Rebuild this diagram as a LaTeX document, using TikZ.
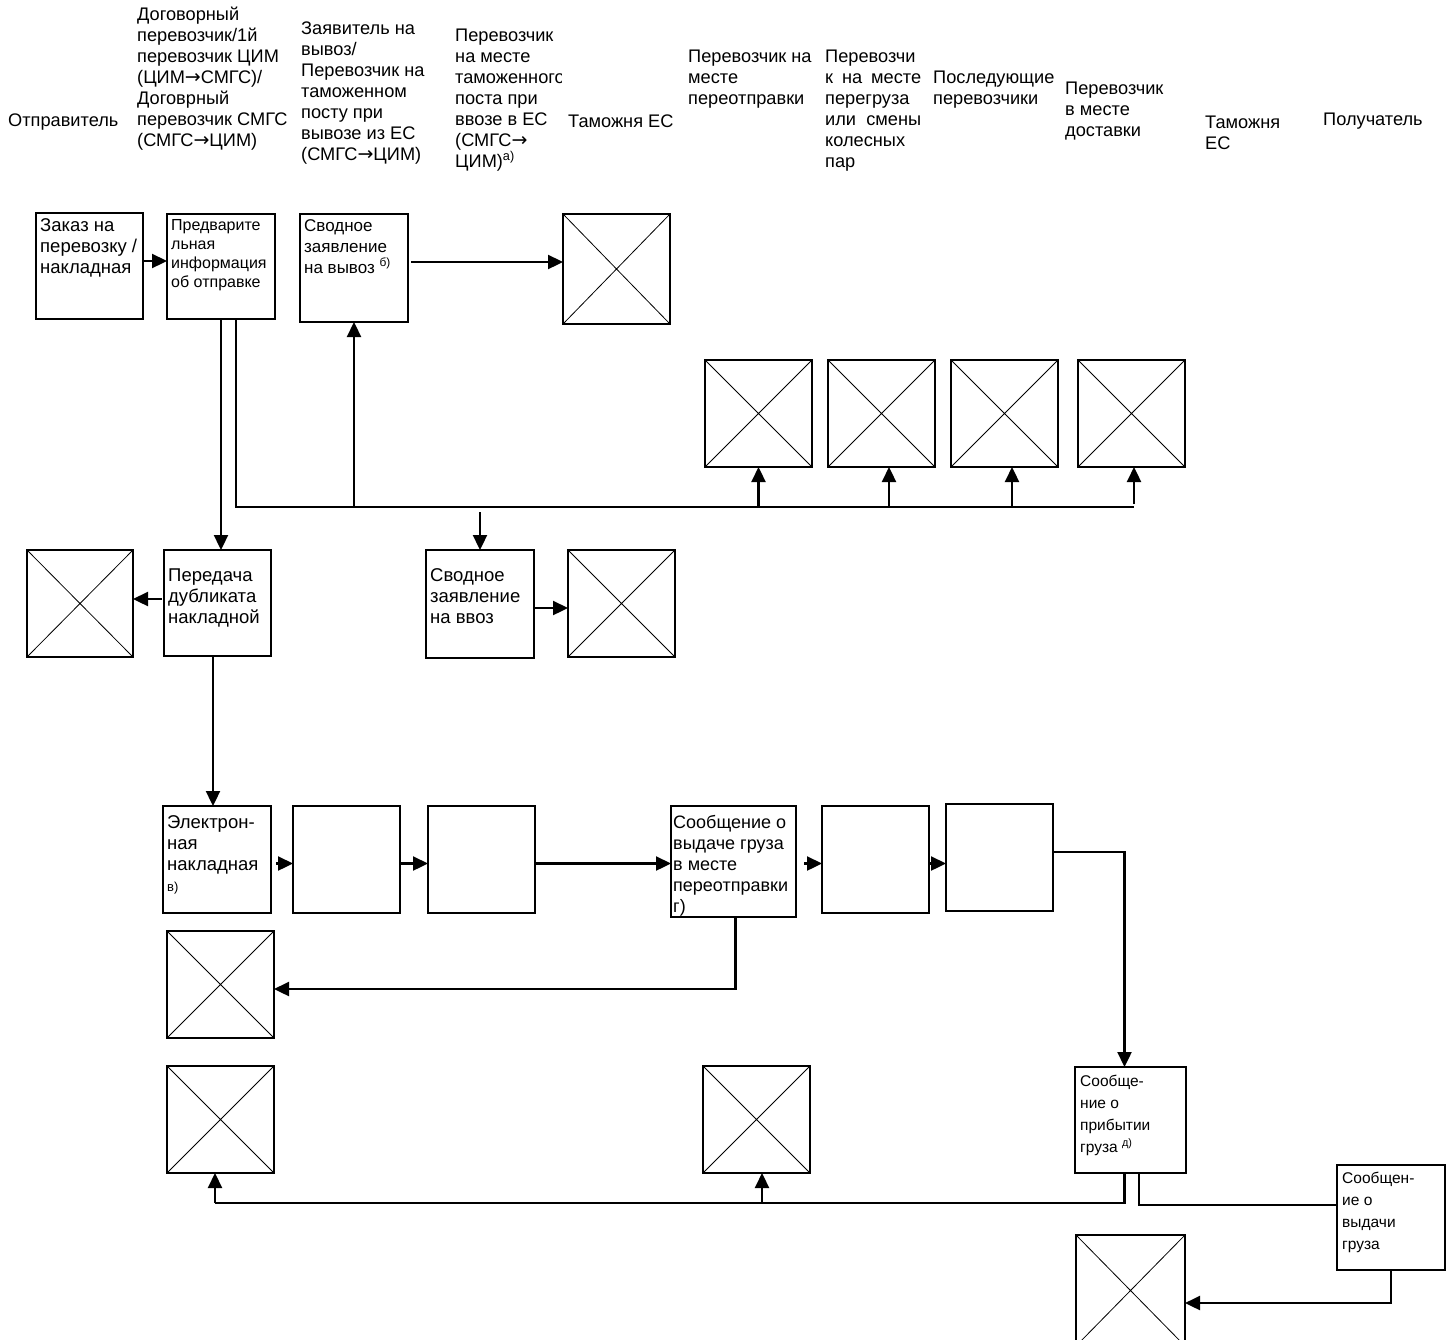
\documentclass[tikz,border=0pt]{standalone}
\usepackage{fontspec}
\setmainfont{Liberation Sans}
\newfontfamily\dvfont{DejaVu Sans}
\usetikzlibrary{arrows.meta}
\newcommand\hfnt{\fontsize{18.2}{21}\selectfont}
\newcommand\bfnt{\fontsize{18.5}{21}\selectfont}
\newcommand\cfnt{\fontsize{17}{21}\selectfont}
\newcommand\ifnt{\fontsize{18}{21}\selectfont}
\newcommand\sfnt{\fontsize{16}{19}\selectfont}
\newcommand\lfnt{\fontsize{15.5}{22}\selectfont}
\newcommand\rarr{{\dvfont\fontsize{19}{21}\selectfont →}}
\newcommand\mkbox[6][box]{\node[#1, minimum width={(#5-#3)*1pt}, minimum height={(#6-#4)*1pt}] (#2) at ({(#3+#5)/2},{(#4+#6)/2}) {};}
\begin{document}
\begin{tikzpicture}[x=1pt,y=-1pt,
  box/.style={draw, line width=1.3pt, inner sep=0pt, outer sep=0pt},
  crossbox/.style={box, path picture={\draw[line width=0.8pt] (path picture bounding box.north west) -- (path picture bounding box.south east) (path picture bounding box.north east) -- (path picture bounding box.south west);}},
  conn/.style={line width=2.3pt},
  arr/.style={conn, -{Triangle[length=15pt,width=14pt]}},
  hdr/.style={anchor=north west, inner sep=0pt, align=left, font=\hfnt},
  btxt/.style={anchor=north west, inner sep=0pt, align=left, font=\bfnt}]
\fill[white] (0,0) rectangle (1447,1339);
\useasboundingbox (0,0) rectangle (1447,1339);

% headers
\node[hdr] (h1) at (8,111.3) {\strut Отправитель};
\node[hdr] (h2) at (137,5.3) {\strut Договорный\\перевозчик/1й\\перевозчик ЦИМ\\(ЦИМ\rarr СМГС)/\\Договрный\\перевозчик СМГС\\(СМГС\rarr ЦИМ)};
\node[hdr] (h3) at (301,19.3) {\strut Заявитель на\\вывоз/\\Перевозчик на\\таможенном\\посту при\\вывозе из ЕС\\(СМГС\rarr ЦИМ)};
\begin{scope}
\clip (450,0) rectangle (561,200);
\node[hdr] (h4) at (455,26.3) {\strut Перевозчик\\на месте\\таможенного\\поста при\\ввозе в ЕС\\(СМГС\rarr\\ЦИМ)\textsuperscript{а)}};
\end{scope}
\node[hdr] (h5) at (568,112.3) {\strut Таможня ЕС};
\node[hdr] (h6) at (688,47.3) {\strut Перевозчик на\\месте\\переотправки};
\node[hdr] (h7) at (825,47.3) {\strut Перевозчи\\\makebox[96pt][s]{к на месте}\\перегруза\\\makebox[96pt][s]{или смены}\\колесных\\пар};
\node[hdr] (h8) at (933,68.3) {\strut Последующие\\перевозчики};
\node[hdr] (h9) at (1065,79.3) {\strut Перевозчик\\в месте\\доставки};
\node[hdr] (h10) at (1205,113.3) {\strut Таможня\\ЕС};
\node[hdr] (h11) at (1323,110.3) {\strut Получатель};

% boxes
\mkbox{A}{36}{213}{143}{319}
\mkbox{B}{167}{214}{275}{319}
\mkbox{C}{300}{214}{408}{322}
\mkbox[crossbox]{X1}{563}{214}{670}{324}
\mkbox[crossbox]{X2}{705}{360}{812}{467}
\mkbox[crossbox]{X3}{828}{360}{935}{467}
\mkbox[crossbox]{X4}{951}{360}{1058}{467}
\mkbox[crossbox]{X5}{1078}{360}{1185}{467}
\mkbox[crossbox]{X6}{27}{550}{133}{657}
\mkbox{D}{164}{550}{271}{656}
\mkbox{E}{426}{550}{534}{658}
\mkbox[crossbox]{X7}{568}{550}{675}{657}
\mkbox{F}{163}{806}{271}{913}
\mkbox{G}{293}{806}{400}{913}
\mkbox{H}{428}{806}{535}{913}
\mkbox{I}{671}{806}{796}{917}
\mkbox{J}{822}{806}{929}{913}
\mkbox{K}{946}{804}{1053}{911}
\mkbox[crossbox]{X8}{167}{931}{274}{1038}
\mkbox[crossbox]{X9}{167}{1066}{274}{1173}
\mkbox[crossbox]{X10}{703}{1066}{810}{1173}
\mkbox{L}{1075}{1067}{1186}{1173}
\mkbox{M}{1337}{1165}{1445}{1270}
\mkbox[crossbox]{X11}{1076}{1235}{1185}{1346}

% box texts
\node[btxt] (tA) at (40,216.3) {\strut Заказ на\\перевозку /\\накладная};
\node[btxt, font=\sfnt] (tB) at (171,217) {\strut Предварите\\льная\\информация\\об отправке};
\node[btxt, font=\cfnt] (tC) at (304,216.3) {\strut Сводное\\заявление\\на вывоз \textsuperscript{б)}};
\node[btxt] (tD) at (168,566.3) {\strut Передача\\дубликата\\накладной};
\node[btxt] (tE) at (430,566.3) {\strut Сводное\\заявление\\на ввоз};
\node[btxt] (tF) at (167,813.3) {\strut Электрон-\\ная\\накладная\\{\fontsize{13}{21}\selectfont в)}};
\node[btxt, font=\ifnt] (tI) at (673,813.3) {\strut Сообщение о\\выдаче груза\\в месте\\переотправки\\г)};
\node[btxt, font=\lfnt] (tL) at (1080,1070.6) {\strut Сообще-\\ние о\\прибытии\\груза \textsuperscript{д)}};
\node[btxt, font=\lfnt] (tM) at (1342,1167.6) {\strut Сообщен-\\ие о\\выдачи\\груза};

% connectors, top
\draw[arr] ([xshift=1pt,yshift=5pt]A.east) -- ([yshift=5pt]A.east -| B.west);
\draw[arr] ([xshift=3pt,yshift=6pt]C.east) -- ([yshift=6pt]C.east -| X1.west);
\draw[arr] (B.south) -- (B.south |- D.north);
\coordinate (bus) at (236,507);
\draw[conn] (bus |- B.south) -- (bus) -- ([xshift=2.5pt]X5.south |- bus);
\draw[arr] (bus -| C.south) -- (C.south);
\draw[arr] ([yshift=38pt]E.north) -- (E.north);
\draw[arr] (X2.south |- bus) -- (X2.south);
\draw[arr] ([xshift=7.5pt]X3.south |- bus) -- ([xshift=7.5pt]X3.south);
\draw[arr] ([xshift=7.5pt]X4.south |- bus) -- ([xshift=7.5pt]X4.south);
\draw[arr] ([xshift=2.5pt,yshift=3pt]X5.south |- bus) -- ([xshift=2.5pt]X5.south);

% middle
\draw[arr] ([xshift=-2pt,yshift=4pt]D.west) -- ([yshift=4pt]D.west -| X6.east);
\draw[arr] ([yshift=-4pt]E.east) -- ([yshift=-4pt]E.east -| X7.west);
\draw[arr] ([xshift=-4.5pt]D.south) -- ([xshift=-4.5pt]D.south |- F.north);

% row 3
\draw[arr] ([xshift=5pt,yshift=-4pt]F.east) -- ([yshift=-4pt]F.east -| G.west);
\draw[arr] ([xshift=-1pt,yshift=-4pt]G.east) -- ([yshift=-4pt]G.east -| H.west);
\draw[arr] ([yshift=-4pt]H.east) -- ([yshift=-4pt]H.east -| I.west);
\draw[arr] ([xshift=8pt,yshift=-2pt]I.east) -- ([yshift=-2pt]I.east -| J.west);
\draw[arr] ([xshift=-1pt,yshift=-4pt]J.east) -- ([yshift=-4pt]J.east -| K.west);
\draw[arr] ([yshift=5.5pt]K.east) -| ([xshift=-6pt]L.north);
\draw[arr] ([xshift=2pt]I.south) |- ([yshift=-4.5pt]X8.east);

% bottom
\coordinate (lb) at (1124.5,1203);
\coordinate (rb) at (1139,1205);
\draw[conn] (lb |- L.south) -- (lb) -- ([xshift=-5.5pt]X9.south |- lb);
\draw[arr] ([xshift=-5.5pt]X9.south |- lb) -- ([xshift=-5.5pt]X9.south);
\draw[arr] ([xshift=5.5pt]X10.south |- lb) -- ([xshift=5.5pt]X10.south);
\draw[conn] (rb |- L.south) -- (rb) -- (rb -| M.west);
\draw[arr] (M.south) |- ([yshift=-12.5pt]X11.east);
\end{tikzpicture}
\end{document}
